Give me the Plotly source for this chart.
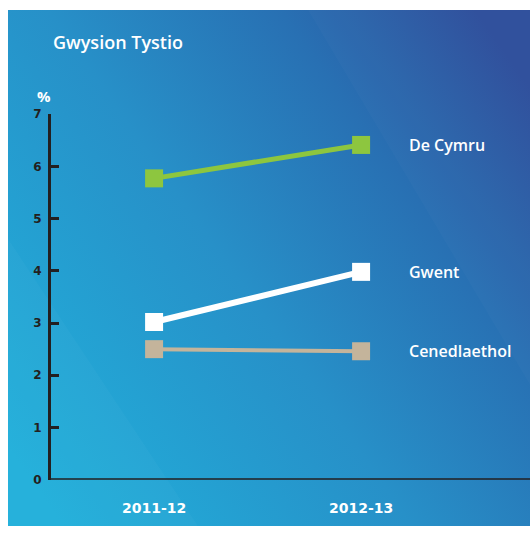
import base64
import plotly.graph_objects as go

# ---- data ----
years = ["2011-12", "2012-13"]
series_names = ["De Cymru", "Gwent", "Cenedlaethol"]
de_cymru = [5.77, 6.41]
gwent = [3.02, 3.98]
cenedlaethol = [2.50, 2.46]
y_ticks = [0, 1, 2, 3, 4, 5, 6, 7]
title_text = "Gwysion Tystio"
unit_text = "%"

W, H = 530, 533
colors = ["#8DC63F", "#FFFFFF", "#C4B49B"]
widths = [5, 6, 4]
values = [de_cymru, gwent, cenedlaethol]

TOP = 3  # white strip at top of the figure
svg = f"""<svg xmlns='http://www.w3.org/2000/svg' width='522' height='{H - TOP}' viewBox='0 0 522 {H - TOP}' preserveAspectRatio='none'>
<defs><linearGradient id='g' x1='0' y1='0.85' x2='1' y2='0.15'>
<stop offset='0' stop-color='#21B0DB'/>
<stop offset='0.45' stop-color='#2790C8'/>
<stop offset='0.75' stop-color='#2870B3'/>
<stop offset='1' stop-color='#2D4E9C'/>
</linearGradient></defs>
<rect width='522' height='{H - TOP}' fill='url(#g)'/>
<polygon points='0,235 0,{H - TOP} 190,{H - TOP}' fill='#ffffff' fill-opacity='0.025'/>
<polygon points='300,0 522,385 522,0' fill='#ffffff' fill-opacity='0.02'/>
</svg>"""
src = "data:image/svg+xml;base64," + base64.b64encode(svg.encode()).decode()

Y0, Y7 = 485.5, 110.0  # pixel rows of value 0 and 7 inside the figure

fig = go.Figure()
for name, vals, c, w in zip(series_names, values, colors, widths):
    fig.add_trace(go.Scatter(
        x=years, y=vals, mode="lines+markers", name=name,
        line=dict(color=c, width=w),
        marker=dict(symbol="square", size=18, color=c),
        showlegend=False, cliponaxis=False, hoverinfo="skip",
    ))
    fig.add_annotation(
        x=years[-1], y=vals[-1], text=name, showarrow=False,
        xanchor="left", yanchor="middle", xshift=46,
        font=dict(family="Open Sans", size=16, color="white", weight=600),
    )

fig.add_annotation(
    xref="paper", yref="paper", x=51 / W, y=1 - 36 / H, text=title_text,
    showarrow=False, xanchor="left", yanchor="middle",
    font=dict(family="Open Sans", size=18, color="white", weight=600),
)
fig.add_annotation(
    xref="paper", yref="paper", x=44 / W, y=1 - 91.5 / H, text=unit_text,
    showarrow=False, xanchor="center", yanchor="middle",
    font=dict(family="Open Sans", size=15, color="white", weight=700),
)

fig.update_layout(
    width=W, height=H,
    margin=dict(l=0, r=0, t=0, b=0),
    paper_bgcolor="white",
    plot_bgcolor="rgba(0,0,0,0)",
    images=[dict(source=src, xref="paper", yref="paper",
                 x=8 / W, y=1 - TOP / H, sizex=1 - 8 / W, sizey=1 - TOP / H,
                 xanchor="left", yanchor="top", sizing="stretch", layer="below")],
    xaxis=dict(
        domain=[51 / W, 1], range=[-0.498, 1.816], type="category",
        showgrid=False, zeroline=False, showline=False,
        ticks="", ticklabelstandoff=18,
        tickfont=dict(family="DejaVu Sans", size=14, color="white", weight=700),
    ),
    yaxis=dict(
        domain=[1 - Y0 / H, 1 - Y7 / H], range=[0, 7],
        tickvals=y_ticks, showgrid=False, zeroline=False,
        showline=True, linecolor="#231F20", linewidth=3,
        ticks="inside", ticklen=8, tickwidth=3, tickcolor="#231F20",
        ticklabelstandoff=4,
        tickfont=dict(family="DejaVu Sans", size=12, color="#231F20", weight=700),
    ),
    shapes=[dict(type="line", xref="paper", yref="y", x0=(51 - 1.5) / W, x1=1,
                 y0=0, y1=0, line=dict(color="#231F20", width=3))],
)

fig.write_html("out.html", config={"displayModeBar": False},
               post_script="document.body.style.margin='0';document.body.style.overflow='hidden';"
                           "document.body.style.fontSize='0';document.body.style.lineHeight='0';")
